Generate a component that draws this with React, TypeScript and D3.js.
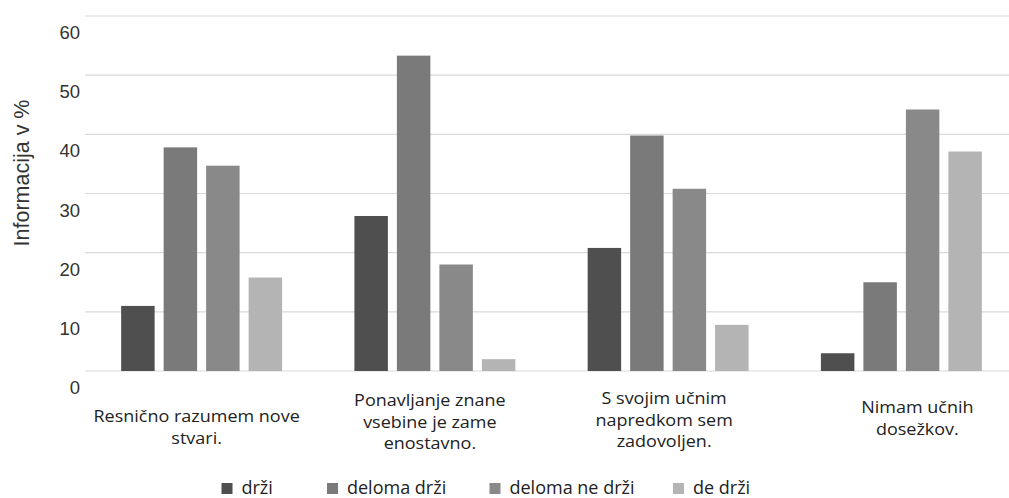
import React from "react";
import * as d3 from "d3";

// Survey statements (x categories), split into the lines shown under the axis
const categories = [
  "Resnično razumem nove stvari.",
  "Ponavljanje znane vsebine je zame enostavno.",
  "S svojim učnim napredkom sem zadovoljen.",
  "Nimam učnih dosežkov.",
];
const categoryLines = [
  ["Resnično razumem nove", "stvari."],
  ["Ponavljanje znane", "vsebine je zame", "enostavno."],
  ["S svojim učnim", "napredkom sem", "zadovoljen."],
  ["Nimam učnih", "dosežkov."],
];

// Answer options (series)
const series = ["drži", "deloma drži", "deloma ne drži", "de drži"];

// Share of answers in % per series, one value per statement
const drzi = [11, 26.2, 20.8, 3];
const delomaDrzi = [37.8, 53.3, 39.8, 15];
const delomaNeDrzi = [34.7, 18, 30.8, 44.2];
const neDrzi = [15.8, 2, 7.8, 37.1];
const values = [drzi, delomaDrzi, delomaNeDrzi, neDrzi];

const yTicks = [0, 10, 20, 30, 40, 50, 60];
const yTitle = "Informacija v %";

const W = 1009;
const H = 498;
const colors = ["#4f4f4f", "#7a7a7a", "#898989", "#b4b4b4"];

// small placement tweaks for the wrapped axis labels
const labelDx = [-5, -5, -4, 16];
const labelFirstLineY = [416, 400, 398, 407];
const labelLineGap = 21.5;
// axis labels are set in a slightly condensed size and widened horizontally
const labelFontSize = 15.6;
const labelStretch = 1.154;

const sansUI = "'Open Sans', 'Noto Sans', sans-serif";
const sansAxis = "'Liberation Sans', Arial, sans-serif";

export default function App() {
  const y = d3.scaleLinear().domain([0, 60]).range([371, 16]);
  const x0 = d3
    .scaleBand<string>()
    .domain(categories)
    .range([85, 1018])
    .paddingInner(0.31)
    .paddingOuter(0.155);
  const x1 = d3
    .scaleBand<string>()
    .domain(series)
    .range([0, x0.bandwidth()])
    .paddingInner(0.212);

  const legendX = [221.5, 327, 489.5, 673];

  return (
    <svg
      width={W}
      height={H}
      style={{ position: "absolute", left: 0, top: 0, background: "#fff" }}
    >
      {/* horizontal gridlines */}
      {yTicks.map((t) => (
        <line
          key={"g" + t}
          x1={85}
          x2={W}
          y1={y(t)}
          y2={y(t)}
          stroke="#d9d9d9"
          strokeWidth={1.2}
        />
      ))}
      {/* y tick labels */}
      {yTicks.map((t) => (
        <text
          key={"t" + t}
          x={80}
          y={y(t) + 16.5}
          textAnchor="end"
          dominantBaseline="central"
          fontFamily={sansAxis}
          fontSize={18.5}
          fill="#333"
        >
          {t}
        </text>
      ))}
      {/* y axis title */}
      <text
        transform={`translate(28.5,173) rotate(-90)`}
        textAnchor="middle"
        fontFamily={sansAxis}
        fontSize={21.5}
        fill="#333"
      >
        {yTitle}
      </text>

      {/* bars */}
      {categories.map((c, ci) => (
        <g key={c} transform={`translate(${x0(c)},0)`}>
          {series.map((s, si) => {
            const v = values[si][ci];
            return (
              <rect
                key={s}
                x={x1(s)}
                y={y(v)}
                width={x1.bandwidth()}
                height={y(0) - y(v)}
                fill={colors[si]}
              />
            );
          })}
        </g>
      ))}

      {/* category labels */}
      {categories.map((c, ci) => {
        const cx = (x0(c) as number) + x0.bandwidth() / 2 + labelDx[ci];
        return (
          <g
            key={"l" + c}
            transform={`translate(${cx},0) scale(${labelStretch},1)`}
          >
            {categoryLines[ci].map((line, li) => (
              <text
                key={li}
                x={0}
                y={labelFirstLineY[ci] + li * labelLineGap}
                textAnchor="middle"
                dominantBaseline="central"
                fontFamily={sansUI}
                fontSize={labelFontSize}
                fill="#222"
              >
                {line}
              </text>
            ))}
          </g>
        );
      })}

      {/* legend */}
      {series.map((s, si) => (
        <g key={"lg" + s} transform={`translate(${legendX[si]},0)`}>
          <rect x={0} y={483} width={11} height={11} fill={colors[si]} />
          <text
            x={20}
            y={494}
            fontFamily={sansUI}
            fontSize={18}
            fill="#222"
          >
            {s}
          </text>
        </g>
      ))}
    </svg>
  );
}
